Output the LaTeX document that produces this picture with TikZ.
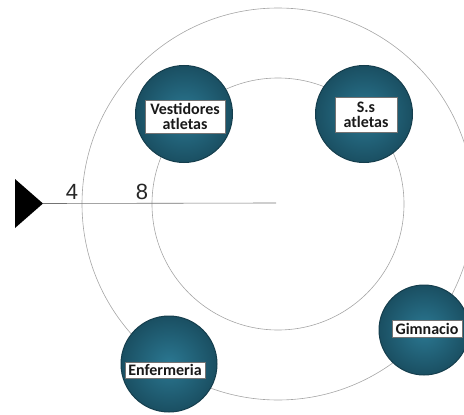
\documentclass[tikz,border=0pt]{standalone}
\usepackage{fontspec}
\setmainfont{Carlito}
\newfontfamily\numfont{Liberation Sans}
\begin{document}
\begin{tikzpicture}[x=1pt,y=-1pt,
  ring/.style={draw=black!35, line width=0.6pt},
  ballnode/.style={circle, minimum size=#1, inner sep=0pt, draw=tealedge, line width=1pt,
    inner color=tealmid, outer color=tealdark},
  tag/.style={fill=white, draw=black!55, line width=0.4pt, font=\bfseries\fontsize{16}{15}\selectfont,
    text=black!90, align=center, inner sep=1pt},
  numlab/.style={font=\numfont\fontsize{22}{22}\selectfont, text=black!85}
]
\definecolor{tealmid}{HTML}{2B7892}
\definecolor{tealdark}{HTML}{1A4F62}
\definecolor{tealedge}{HTML}{153E4D}
\useasboundingbox (0,0) rectangle (464,415);
\begin{scope}
\clip (0,0) rectangle (464,415);
\coordinate (c) at (278,204);
\draw[ring] (c) circle[radius=196];
\draw[ring] (c) circle[radius=126];
\end{scope}
\coordinate (lineend) at (276,203);
\fill[black] (15,179) -- (43,203.5) -- (15,228) -- cycle;
\coordinate (tip) at (43,203.5);
\draw[black!55, line width=0.6pt] (tip) -- (lineend);
\node[numlab] (n4) at (72,192) {4};
\node[numlab] (n8) at (142,192) {8};
% balls
\node[ballnode=97pt] (b1) at (184,114) {};
\node[ballnode=97pt] (b2) at (364,114) {};
\node[ballnode=90pt] (b3) at (424,330) {};
\node[ballnode=96pt] (b4) at (169,364) {};
\node[tag, minimum width=80pt, minimum height=33pt] (t1) at (185,116.5) {Vestidores\\atletas};
\node[tag, minimum width=62pt, minimum height=35pt] (t2) at (366,114.5) {S.s\\atletas};
\node[tag, minimum width=70pt, minimum height=17pt] (t3) at (427,328.5) {Gimnacio};
\node[tag, minimum width=80pt, minimum height=16pt] (t4) at (165,370) {Enfermeria};
\end{tikzpicture}
\end{document}
